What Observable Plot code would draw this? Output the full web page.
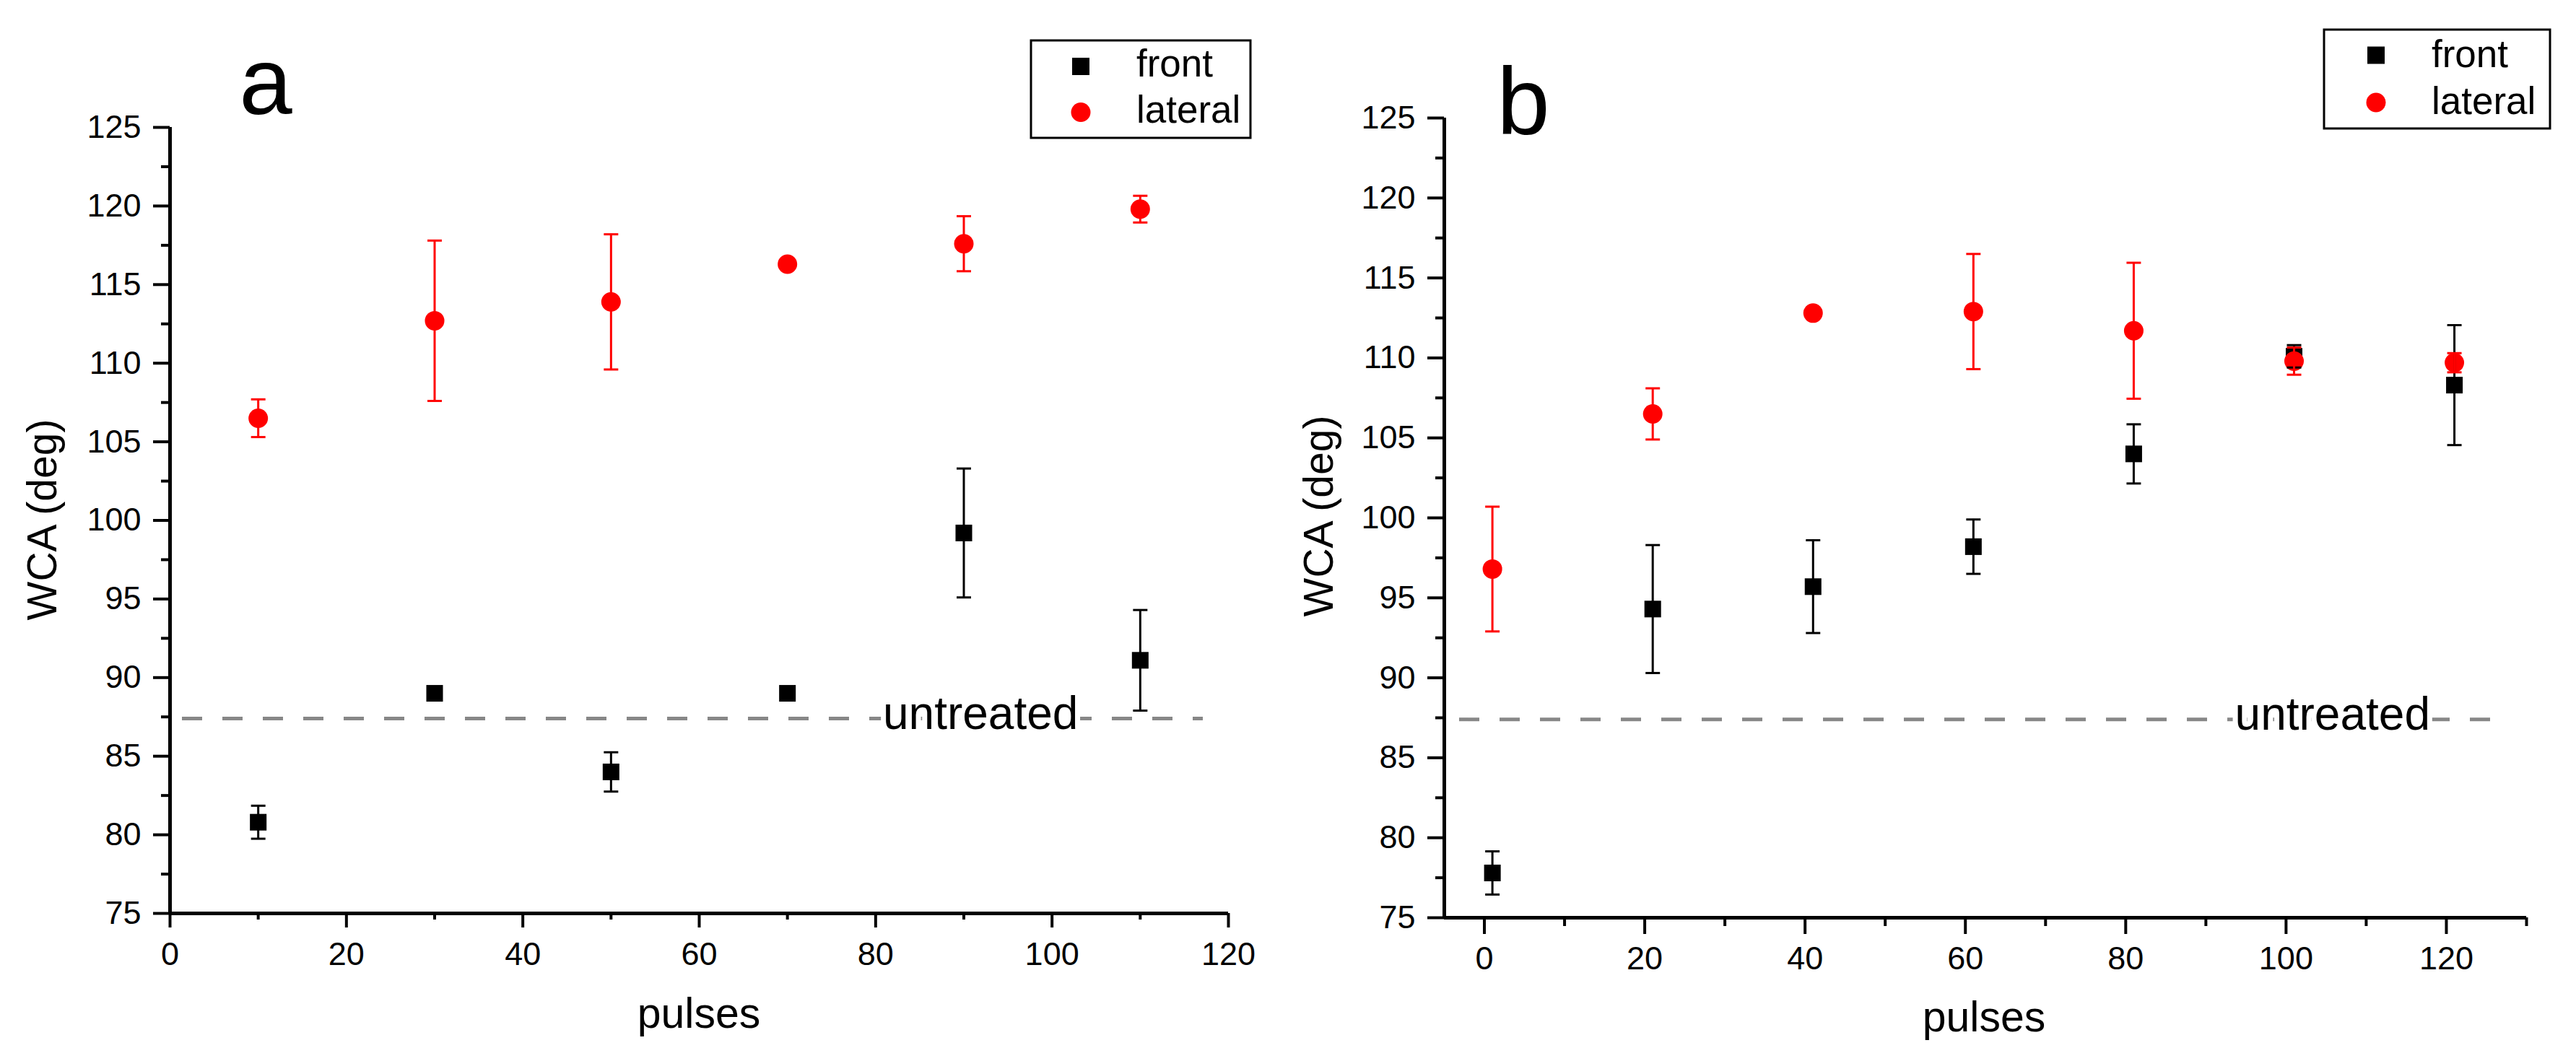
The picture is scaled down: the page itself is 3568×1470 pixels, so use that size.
<!DOCTYPE html>
<html>
<head>
<meta charset="utf-8">
<script src="https://cdn.jsdelivr.net/npm/d3@7"></script>
<script src="https://cdn.jsdelivr.net/npm/@observablehq/plot@0.6"></script>
<style>
  html, body { margin: 0; padding: 0; background: #fff; }
  body { width: 3568px; height: 1470px; position: relative; overflow: hidden;
         font-family: "Liberation Sans", Arial, sans-serif; }
  .panel { position: absolute; top: 0; }
  #overlay { position: absolute; left: 0; top: 0; pointer-events: none; }
</style>
</head>
<body>
<div id="pa" class="panel" style="left:0px"></div>
<div id="pb" class="panel" style="left:1784px"></div>
<svg id="overlay" width="3568" height="1470"></svg>
<script>
// ---------------- data ----------------
const pulsesA     = [10, 30, 50, 70, 90, 110];
const frontA      = [80.8, 89.0, 84.0, 89.0, 99.2, 91.1];
const frontErrA   = [1.05, 0.2, 1.25, 0.2, 4.1, 3.2];
const lateralA    = [106.5, 112.7, 113.9, 116.3, 117.6, 119.8];
const lateralErrA = [1.2, 5.1, 4.3, 0.2, 1.75, 0.85];

const pulsesB     = [1, 21, 41, 61, 81, 101, 121];
const frontB      = [77.8, 94.3, 95.7, 98.2, 104.0, 110.1, 108.3];
const frontErrB   = [1.35, 4.0, 2.9, 1.7, 1.85, 0.7, 3.75];
const lateralB    = [96.8, 106.5, 112.8, 112.9, 111.7, 109.8, 109.7];
const lateralErrB = [3.9, 1.6, 0.2, 3.6, 4.25, 0.85, 0.6];

const untreated = 87.4;

const yDomain   = [75, 125];
const yTicks    = [75, 80, 85, 90, 95, 100, 105, 110, 115, 120, 125];
const yMinor    = [77.5, 82.5, 87.5, 92.5, 97.5, 102.5, 107.5, 112.5, 117.5, 122.5];
const xDomainA  = [0, 120];
const xTicksA   = [0, 20, 40, 60, 80, 100, 120];
const xMinorA   = [10, 30, 50, 70, 90, 110];
const xDomainB  = [-5, 130];
const xTicksB   = [0, 20, 40, 60, 80, 100, 120];
const xMinorB   = [10, 30, 50, 70, 90, 110, 130];

const seriesNames = ["front", "lateral"];
const yTitle = "WCA (deg)";
const xTitle = "pulses";
const untreatedLabel = "untreated";

// ---------------- helpers ----------------
const RED = "#ff0000";
const capSymbol = {
  draw(ctx, size) {
    const r = Math.sqrt(size / Math.PI);
    ctx.moveTo(-r, 0);
    ctx.lineTo(r, 0);
  }
};
function rows(xs, ys, es) {
  return xs.map((x, i) => ({x, y: ys[i], lo: ys[i] - es[i], hi: ys[i] + es[i]}));
}
function errMarks(data, color) {
  return [
    Plot.ruleX(data, {x: "x", y1: "lo", y2: "hi", stroke: color, strokeWidth: 3}),
    Plot.dot(data, {x: "x", y: "lo", symbol: capSymbol, r: 10, fill: "none", stroke: color, strokeWidth: 3}),
    Plot.dot(data, {x: "x", y: "hi", symbol: capSymbol, r: 10, fill: "none", stroke: color, strokeWidth: 3})
  ];
}

function panel(cfg) {
  const front = rows(cfg.xs, cfg.front, cfg.frontErr);
  const lateral = rows(cfg.xs, cfg.lateral, cfg.lateralErr);
  return Plot.plot({
    width: 1784, height: 1470,
    marginLeft: cfg.ml, marginRight: cfg.mr, marginTop: cfg.mt, marginBottom: cfg.mb,
    x: {domain: cfg.xDomain, label: null},
    y: {domain: yDomain, label: null},
    style: {background: "#fff", color: "#000", fontFamily: '"Liberation Sans", Arial, sans-serif', overflow: "visible"},
    marks: [
      Plot.ruleY([untreated], {stroke: "#878787", strokeWidth: 5, strokeDasharray: "28 28",
        insetLeft: cfg.dashL, insetRight: cfg.dashR}),
      Plot.text([untreated], {x: () => cfg.labelX, y: d => d, text: () => untreatedLabel,
        fontSize: 64, fill: "#000", stroke: "#fff", strokeWidth: 14, paintOrder: "stroke", dy: -6}),
      Plot.dot(front, {x: "x", y: "y", symbol: "square", r: 13, fill: "#000"}),
      Plot.dot(lateral, {x: "x", y: "y", symbol: "circle", r: 13.5, fill: RED}),
      ...errMarks(front, "#000"),
      ...errMarks(lateral, RED),
      Plot.axisY(yTicks, {anchor: "left", tickSize: 23, tickPadding: 17, fontSize: 45, strokeWidth: 4, label: null}),
      Plot.axisY(yMinor, {anchor: "left", tickSize: 12, tickFormat: () => "", strokeWidth: 4, label: null}),
      Plot.axisX(cfg.xTicks, {anchor: "bottom", tickSize: cfg.tick, tickPadding: cfg.pad, fontSize: 45, strokeWidth: 4, label: null}),
      Plot.axisX(cfg.xMinor, {anchor: "bottom", tickSize: cfg.minor, tickFormat: () => "", strokeWidth: 4, label: null}),
      Plot.ruleX([cfg.xDomain[0]], {stroke: "#000", strokeWidth: 5}),
      Plot.ruleY([yDomain[0]], {stroke: "#000", strokeWidth: 5})
    ]
  });
}

document.getElementById("pa").append(panel({
  xs: pulsesA, front: frontA, frontErr: frontErrA, lateral: lateralA, lateralErr: lateralErrA,
  xDomain: xDomainA, xTicks: xTicksA, xMinor: xMinorA,
  ml: 235, mr: 83, mt: 176, mb: 205, tick: 20, pad: 20, minor: 9,
  dashL: 17, dashR: 35, labelX: 91.9
}));
document.getElementById("pb").append(panel({
  xs: pulsesB, front: frontB, frontErr: frontErrB, lateral: lateralB, lateralErr: lateralErrB,
  xDomain: xDomainB, xTicks: xTicksB, xMinor: xMinorB,
  ml: 216, mr: 69, mt: 163, mb: 199, tick: 23, pad: 17, minor: 12,
  dashL: 21, dashR: 30, labelX: 105.8
}));

// ---------------- overlay: titles, panel letters, legends ----------------
const ov = d3.select("#overlay");
const FF = '"Liberation Sans", Arial, sans-serif';
function txt(x, y, s, size, anchor, rot) {
  const t = ov.append("text").attr("x", x).attr("y", y).text(s)
    .attr("font-family", FF).attr("font-size", size).attr("fill", "#000")
    .attr("text-anchor", anchor);
  if (rot) t.attr("transform", `rotate(${rot},${x},${y})`);
  return t;
}
txt(368, 158, "a", 132, "middle");
txt(2110, 186, "b", 132, "middle");
txt(78, 720, yTitle, 57, "middle", -90);
txt(1846, 715, yTitle, 57, "middle", -90);
txt(968, 1424, xTitle, 59, "middle");
txt(2748, 1429, xTitle, 59, "middle");

function legend(bx, by, bw, bh, sx, sy1, sy2, tx, ty1, ty2) {
  ov.append("rect").attr("x", bx).attr("y", by).attr("width", bw).attr("height", bh)
    .attr("fill", "none").attr("stroke", "#000").attr("stroke-width", 3);
  ov.append("rect").attr("x", sx - 12).attr("y", sy1 - 12).attr("width", 24).attr("height", 24).attr("fill", "#000");
  ov.append("circle").attr("cx", sx).attr("cy", sy2).attr("r", 13.5).attr("fill", RED);
  txt(tx, ty1, seriesNames[0], 53, "start");
  txt(tx, ty2, seriesNames[1], 53, "start");
}
legend(1428, 56, 304, 135, 1497, 92, 155.5, 1574, 106, 170);
legend(3219, 41, 313, 137, 3291, 76.5, 142, 3368, 93, 158);
</script>
</body>
</html>
